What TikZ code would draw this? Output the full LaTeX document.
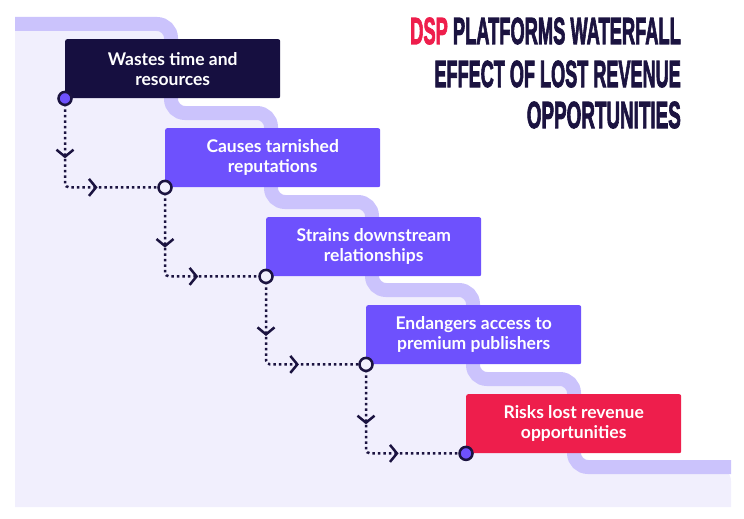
\documentclass[tikz,border=0pt]{standalone}
\usepackage{fontspec}
\usepackage{graphicx}
\setmainfont{Lato}
\newfontfamily\titlefont[FakeBold=3]{Liberation Sans Bold}
\usetikzlibrary{arrows.meta,decorations.markings}

\definecolor{ink}{HTML}{1B1340}
\definecolor{navy}{HTML}{160F40}
\definecolor{violet}{HTML}{6E51FD}
\definecolor{rose}{HTML}{EE1E4C}
\definecolor{bandc}{HTML}{CBC3FC}
\definecolor{bgfill}{HTML}{F1EFFD}

\tikzset{
  stepbox/.style={rectangle, rounded corners=2pt, minimum width=215pt, minimum height=59pt,
    inner sep=0pt, align=center, text=white, anchor=north west,
    font=\fontsize{17.5}{20}\selectfont\bfseries},
  band/.style={draw=bandc, line width=14pt, rounded corners=14pt},
  flow/.style={draw=ink, line width=2.5pt, dash pattern=on 2.5pt off 3pt, rounded corners=4pt,
    postaction={decorate},
    decoration={markings,
      mark=at position 0.32 with {\arrow{Straight Barb[length=7pt,width=17pt]}},
      mark=at position 0.64 with {\arrow{Straight Barb[length=7pt,width=17pt]}}}},
  dot/.style={circle, draw=ink, line width=2.5pt, minimum size=13pt, inner sep=0pt},
  titletext/.style={inner sep=0pt, anchor=base east, text=ink,
    font=\titlefont\fontsize{37.7}{42}\selectfont}
}

\begin{document}
\begin{tikzpicture}[x=1pt,y=-1pt]
\useasboundingbox (0,0) rectangle (744,519);

% light area under the stairs
\fill[bgfill, rounded corners=14pt] (15,24) -- (171,24) -- (171,113) -- (271,113) -- (271,202)
  -- (372,202) -- (372,290) -- (473,290) -- (473,379) -- (574,379) -- (574,467)
  -- (731,467) [sharp corners] -- (731,507) -- (15,507) -- cycle;
\draw[band] (15,24) -- (171,24) -- (171,113) -- (271,113) -- (271,202)
  -- (372,202) -- (372,290) -- (473,290) -- (473,379) -- (574,379) -- (574,467)
  -- (731,467);

% title
\node[titletext] (t1) at (681,44) {\scalebox{0.485}[1]{{\color{rose}DSP} PLATFORMS WATERFALL}};
\node[titletext] (t2) at (681,87) {\scalebox{0.48}[1]{EFFECT OF LOST REVENUE}};
\node[titletext] (t3) at (681,128) {\scalebox{0.5}[1]{OPPORTUNITIES}};

% steps
\node[stepbox, fill=navy] (b1) at (65,39) {Wastes time and\\resources};
\node[stepbox, fill=violet] (b2) at (165,128) {Causes tarnished\\reputations};
\node[stepbox, fill=violet] (b3) at (266,217) {Strains downstream\\relationships};
\node[stepbox, fill=violet] (b4) at (366,305) {Endangers access to\\premium publishers};
\node[stepbox, fill=rose] (b5) at (466,394) {Risks lost revenue\\opportunities};

% dotted links
\draw[flow] (b1.south west) |- (b2.south west);
\draw[flow] (b2.south west) |- (b3.south west);
\draw[flow] (b3.south west) |- (b4.south west);
\draw[flow] (b4.south west) |- (b5.south west);

\node[dot, fill=violet] (c1) at (b1.south west) {};
\node[dot, fill=bgfill] (c2) at (b2.south west) {};
\node[dot, fill=bgfill] (c3) at (b3.south west) {};
\node[dot, fill=bgfill] (c4) at (b4.south west) {};
\node[dot, fill=violet] (c5) at (b5.south west) {};
\end{tikzpicture}
\end{document}
